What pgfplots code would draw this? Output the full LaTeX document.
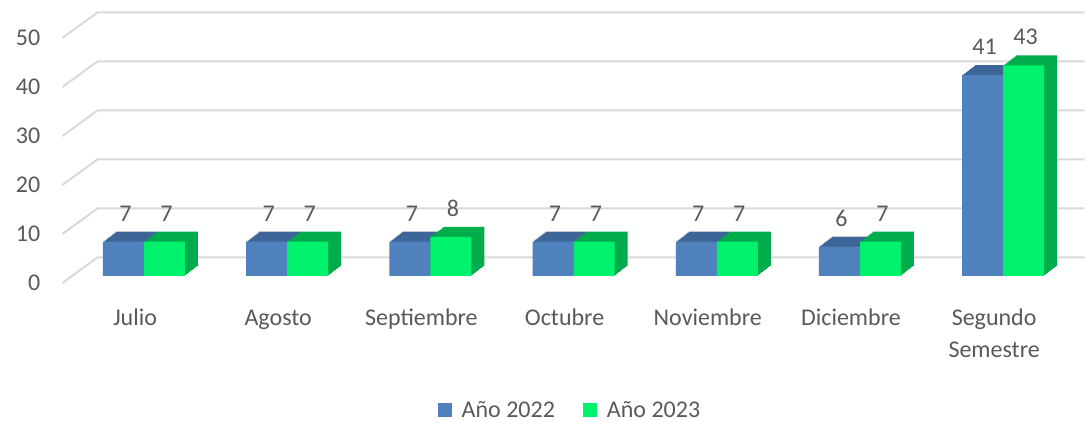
\documentclass[border=0pt]{standalone}
\usepackage{pgfplots}
\pgfplotsset{compat=1.18}
\usepackage{pgfplotstable}
\usepackage{fontspec}
\setmainfont{Carlito}

\definecolor{azul}{HTML}{4F81BD}
\definecolor{azulosc}{HTML}{3D6597}
\definecolor{verde}{HTML}{00F26C}
\definecolor{verdeosc}{HTML}{00AD4A}
\definecolor{texto}{HTML}{595959}
\definecolor{rejilla}{HTML}{D9D9D9}

% mes: 0 Julio ... 5 Diciembre, 6 Segundo Semestre
\pgfplotstableread{
mes a b
0 7 7
1 7 7
2 7 8
3 7 7
4 7 7
5 6 7
6 41 43
}\datos

\begin{document}
\begin{tikzpicture}[font=\fontsize{24}{32}\selectfont, text=texto]
\useasboundingbox (0,0) rectangle (1089pt,422pt);
\begin{axis}[
    at={(72.4pt,146pt)}, anchor=south west,
    scale only axis, width=1002.4pt, height=245pt,
    xmin=-0.5, xmax=6.5, ymin=0, ymax=50,
    ybar, bar width=41pt,
    xtick={0,...,6},
    xticklabels={Julio, Agosto, Septiembre, Octubre, Noviembre, Diciembre, {Segundo\\Semestre}},
    ytick={0,10,...,50},
    axis line style={draw=none}, tick style={draw=none},
    clip=false,
    /pgf/number format/assume math mode=true,
    tick label style={text=texto},
    xticklabel style={align=center, anchor=north, inner sep=0pt, xshift=-9pt, yshift=-28pt,
        execute at begin node={\vphantom{Jl}}},
    yticklabel style={anchor=east, inner sep=0pt, xshift=-32pt, yshift=-7pt},
    legend style={at={(0.4964,0)}, anchor=center, yshift=-134pt, draw=none, fill=none,
        legend columns=2, inner sep=0pt,
        /tikz/every even column/.append style={column sep=26pt}},
]
% rejilla en perspectiva
\pgfplotsinvokeforeach{0,10,20,30,40,50}{
  \draw[rejilla, line width=2pt]
    ([xshift=-10pt,yshift=-7pt]axis cs:-0.5,#1) --
    ([xshift=25pt,yshift=18.5pt]axis cs:-0.5,#1) --
    ([xshift=10pt,yshift=18.5pt]axis cs:6.5,#1);
}
% profundidad 2022
\pgfplotsinvokeforeach{1,...,10}{
  \addplot[forget plot, fill=azulosc, draw=none, bar shift=-20.5pt, xshift=#1*1.3pt, yshift=#1*1pt]
    table[x=mes, y=a]{\datos};
}
\addplot[fill=azul, draw=none, bar shift=-20.5pt,
    legend image code/.code={\fill[azul] (0pt,-7pt) rectangle (14pt,7pt); \path (22pt,0pt);},
    nodes near coords,
    every node near coord/.append style={anchor=south, inner sep=0pt, yshift=20pt, xshift=2pt, text=texto}]
  table[x=mes, y=a]{\datos};
\addlegendentry{Año 2022}
% profundidad 2023
\pgfplotsinvokeforeach{1,...,10}{
  \addplot[forget plot, fill=verdeosc, draw=none, bar shift=20.5pt, xshift=#1*1.3pt, yshift=#1*1pt]
    table[x=mes, y=b]{\datos};
}
\addplot[fill=verde, draw=none, bar shift=20.5pt,
    legend image code/.code={\fill[verde] (0pt,-7pt) rectangle (14pt,7pt); \path (22pt,0pt);},
    nodes near coords,
    every node near coord/.append style={anchor=south, inner sep=0pt, yshift=20pt, xshift=2pt, text=texto}]
  table[x=mes, y=b]{\datos};
\addlegendentry{Año 2023}
\end{axis}
\end{tikzpicture}
\end{document}
